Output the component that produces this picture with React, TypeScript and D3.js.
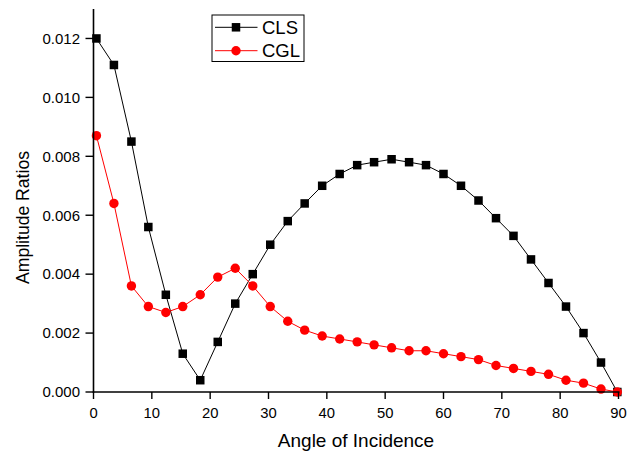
import React from "react";
import * as d3 from "d3";

const angles = [0.5, 3.5, 6.5, 9.4, 12.4, 15.3, 18.3, 21.3, 24.3, 27.3, 30.3, 33.3, 36.2, 39.2, 42.2, 45.2, 48.1, 51.1, 54.1, 57.0, 60.0, 63.0, 66.0, 69.0, 72.0, 75.0, 78.0, 81.0, 84.0, 87.0, 89.8];
const cls = [0.0120, 0.0111, 0.0085, 0.0056, 0.0033, 0.0013, 0.0004, 0.0017, 0.0030, 0.0040, 0.0050, 0.0058, 0.0064, 0.0070, 0.0074, 0.0077, 0.0078, 0.0079, 0.0078, 0.0077, 0.0074, 0.0070, 0.0065, 0.0059, 0.0053, 0.0045, 0.0037, 0.0029, 0.0020, 0.0010, 0.0000];
const cgl = [0.0087, 0.0064, 0.0036, 0.0029, 0.0027, 0.0029, 0.0033, 0.0039, 0.0042, 0.0036, 0.0029, 0.0024, 0.0021, 0.0019, 0.0018, 0.0017, 0.0016, 0.0015, 0.0014, 0.0014, 0.0013, 0.0012, 0.0011, 0.0009, 0.0008, 0.0007, 0.0006, 0.0004, 0.0003, 0.0001, 0.0000];
const xTicks = [0, 10, 20, 30, 40, 50, 60, 70, 80, 90];
const yTicks = [0, 0.002, 0.004, 0.006, 0.008, 0.010, 0.012];
const seriesNames = ["CLS", "CGL"];

const W = 634, H = 453;
const left = 93.5, right = 618.5, top = 9, bottom = 392;
const font = "'Liberation Sans', Arial, sans-serif";

export default function App() {
  const x = d3.scaleLinear().domain([0, 90]).range([left, right]);
  const y = d3.scaleLinear().domain([0, 0.013]).range([bottom, top]);
  const line = d3.line<[number, number]>().x(d => x(d[0])).y(d => y(d[1]));
  const clsPts: [number, number][] = angles.map((a, i) => [a, cls[i]]);
  const cglPts: [number, number][] = angles.map((a, i) => [a, cgl[i]]);
  const sq = 8.5;
  return (
    <svg width={W} height={H} style={{ position: "fixed", left: 0, top: 0, background: "#fff" }} fontFamily={font}>
      <rect width={W} height={H} fill="#fff" />
      <path d={line(clsPts) || ""} fill="none" stroke="#000" strokeWidth={1} />
      {clsPts.map((p, i) => (
        <rect key={"s" + i} x={x(p[0]) - sq / 2} y={y(p[1]) - sq / 2} width={sq} height={sq} fill="#000" />
      ))}
      <path d={line(cglPts) || ""} fill="none" stroke="#ff0000" strokeWidth={1} />
      {cglPts.map((p, i) => (
        <circle key={"c" + i} cx={x(p[0])} cy={y(p[1])} r={4.7} fill="#ff0000" />
      ))}
      {/* axes */}
      <line x1={left} x2={left} y1={top} y2={bottom + 0.75} stroke="#000" strokeWidth={1.6} />
      <line x1={left - 0.75} x2={right + 1} y1={bottom} y2={bottom} stroke="#000" strokeWidth={1.6} />
      {xTicks.map(t => (
        <g key={"xt" + t}>
          <line x1={x(t)} x2={x(t)} y1={bottom} y2={bottom + 7} stroke="#000" strokeWidth={1.4} />
          <text x={x(t)} y={418} textAnchor="middle" fontSize={14.8} fill="#000">{t}</text>
        </g>
      ))}
      {yTicks.map(t => (
        <g key={"yt" + t}>
          <line x1={left - 8} x2={left} y1={y(t)} y2={y(t)} stroke="#000" strokeWidth={1.4} />
          <text x={80} y={y(t) + 5.3} textAnchor="end" fontSize={15} fill="#000">{t.toFixed(3)}</text>
        </g>
      ))}
      <text x={356} y={446.5} textAnchor="middle" fontSize={19} fill="#000">Angle of Incidence</text>
      <text transform={`translate(28.5,217.5) rotate(-90)`} textAnchor="middle" fontSize={17.6} fill="#000">Amplitude Ratios</text>
      {/* legend */}
      <rect x={212} y={15} width={92} height={46.5} fill="#fff" stroke="#000" strokeWidth={1} />
      <line x1={215} x2={257.5} y1={27.3} y2={27.3} stroke="#000" strokeWidth={1} />
      <rect x={236 - sq / 2} y={27.3 - sq / 2} width={sq} height={sq} fill="#000" />
      <text x={262} y={34} fontSize={18.5} fill="#000">{seriesNames[0]}</text>
      <line x1={215} x2={257.5} y1={50.7} y2={50.7} stroke="#ff0000" strokeWidth={1} />
      <circle cx={236} cy={50.7} r={4.7} fill="#ff0000" />
      <text x={262} y={57.4} fontSize={18.5} fill="#000">{seriesNames[1]}</text>
    </svg>
  );
}
